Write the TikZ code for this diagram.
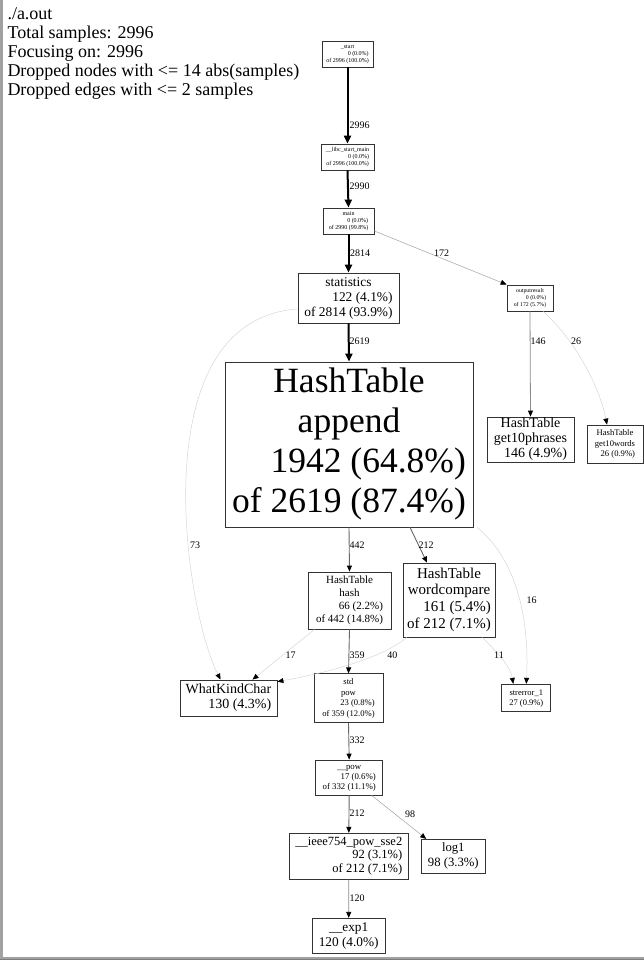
\documentclass[tikz,border=0pt]{standalone}
\usepackage{fontspec}
\setmainfont{Liberation Serif}
\usetikzlibrary{arrows.meta}
\newcommand{\fsz}[2]{\fontsize{#1}{#2}\selectfont}
\definecolor{scrblue}{HTML}{3C8CDC}
\begin{document}
\begin{tikzpicture}[x=1pt,y=-1pt,
  box/.style={draw=black!80, line width=0.8pt, rectangle, inner sep=0pt, anchor=center},
  lbl/.style={font=\fsz{10}{11}, inner sep=0pt},
  hdr/.style={font=\fsz{18}{19}, anchor=base west, inner sep=0pt},
  heavy/.style={draw=black, line width=2pt, -{Triangle[length=8pt,width=7pt]}},
  medge/.style={draw=black!60, line width=0.9pt, -{Triangle[length=6pt,width=5pt,color=black]}},
  gedge/.style={draw=black!45, line width=0.8pt, -{Triangle[length=6pt,width=5pt,color=black]}},
  ledge/.style={draw=black!32, line width=0.6pt, -{Triangle[length=6pt,width=5pt,color=black]}},
  fedge/.style={draw=black!16, line width=0.5pt, -{Triangle[length=6pt,width=5pt,color=black]}}
]
\useasboundingbox (0,0) rectangle (644,960);
\fill[black!37] (0,0) rectangle (3,957);
\fill[black!37] (0,957) rectangle (644,959);
\fill[scrblue] (0,959) rectangle (644,960);

% header
\node[hdr] (h1) at (7.3,20) {./a.out};
\node[hdr] (h2) at (7.3,39) {Total samples: 2996};
\node[hdr] (h3) at (7.3,58) {Focusing on: 2996};
\node[hdr] (h4) at (7.3,77) {Dropped nodes with <= 14 abs(samples)};
\node[hdr] (h5) at (7.3,96) {Dropped edges with <= 2 samples};

% nodes
\node[box, minimum width=51pt, minimum height=26pt] (start) at (347.5,54)
  {\fsz{6}{7}\begin{tabular}{@{}c@{}}\_start\\\hfill 0 (0.0\%)\\of 2996 (100.0\%)\end{tabular}};
\node[box, minimum width=53pt, minimum height=26pt] (libc) at (347.5,157)
  {\fsz{6}{7}\begin{tabular}{@{}c@{}}\_\_libc\_start\_main\\\hfill 0 (0.0\%)\\of 2996 (100.0\%)\end{tabular}};
\node[box, minimum width=51pt, minimum height=26pt] (main) at (348.5,221)
  {\fsz{6}{7}\begin{tabular}{@{}c@{}}main\\\hfill 0 (0.0\%)\\of 2990 (99.8\%)\end{tabular}};
\node[box, minimum width=101pt, minimum height=50pt] (stat) at (348.5,298)
  {\fsz{13.4}{15}\begin{tabular}{@{}c@{}}statistics\\\hfill 122 (4.1\%)\\of 2814 (93.9\%)\end{tabular}};
\node[box, minimum width=46pt, minimum height=26pt] (outr) at (530,298)
  {\fsz{5.8}{7}\begin{tabular}{@{}c@{}}outputresult\\\hfill 0 (0.0\%)\\of 172 (5.7\%)\end{tabular}};
\node[box, minimum width=248pt, minimum height=165pt] (app) at (349,444.5)
  {\fsz{35.5}{40}\begin{tabular}{@{}c@{}}HashTable\\append\\\hfill 1942 (64.8\%)\\of 2619 (87.4\%)\end{tabular}};
\node[box, minimum width=87pt, minimum height=45pt] (g10p) at (530.5,439.5)
  {\fsz{14}{15}\begin{tabular}{@{}c@{}}HashTable\\get10phrases\\\hfill 146 (4.9\%)\end{tabular}};
\node[box, minimum width=56pt, minimum height=38pt] (g10w) at (615,444)
  {\fsz{8.6}{10.5}\begin{tabular}{@{}c@{}}HashTable\\get10words\\\hfill 26 (0.9\%)\end{tabular}};
\node[box, minimum width=83pt, minimum height=57pt] (hash) at (349.5,600.5)
  {\fsz{11}{12.7}\begin{tabular}{@{}c@{}}HashTable\\hash\\\hfill 66 (2.2\%)\\of 442 (14.8\%)\end{tabular}};
\node[box, minimum width=92pt, minimum height=74pt] (wc) at (449,600)
  {\fsz{15}{16.7}\begin{tabular}{@{}c@{}}HashTable\\wordcompare\\\hfill 161 (5.4\%)\\of 212 (7.1\%)\end{tabular}};
\node[box, minimum width=97pt, minimum height=36pt] (wkc) at (228.5,698)
  {\fsz{14}{14.5}\begin{tabular}{@{}c@{}}WhatKindChar\\\hfill 130 (4.3\%)\end{tabular}};
\node[box, minimum width=69pt, minimum height=49pt] (spow) at (348.5,698.3)
  {\fsz{8.6}{10.5}\begin{tabular}{@{}c@{}}std\\pow\\\hfill 23 (0.8\%)\\of 359 (12.0\%)\end{tabular}};
\node[box, minimum width=49pt, minimum height=27.5pt] (strerr) at (526.3,698)
  {\fsz{8.5}{10}\begin{tabular}{@{}c@{}}strerror\_1\\\hfill 27 (0.9\%)\end{tabular}};
\node[box, minimum width=67pt, minimum height=35pt] (pow) at (349.2,777.5)
  {\fsz{8.8}{9.7}\begin{tabular}{@{}c@{}}\_\_pow\\\hfill 17 (0.6\%)\\of 332 (11.1\%)\end{tabular}};
\node[box, minimum width=119pt, minimum height=46pt] (ieee) at (348.8,856.3)
  {\fsz{12.5}{13.3}\begin{tabular}{@{}c@{}}\_\_ieee754\_pow\_sse2\\\hfill 92 (3.1\%)\\\hfill of 212 (7.1\%)\end{tabular}};
\node[box, minimum width=63.3pt, minimum height=34pt] (log1) at (453.3,856.3)
  {\fsz{12.7}{14.5}\begin{tabular}{@{}c@{}}log1\\\hfill 98 (3.3\%)\end{tabular}};
\node[box, minimum width=72.7pt, minimum height=35pt] (exp1) at (348.7,935.8)
  {\fsz{13.3}{15}\begin{tabular}{@{}c@{}}\_\_exp1\\\hfill 120 (4.0\%)\end{tabular}};

% edges
\draw[heavy] (start.south) -- (libc.north);
\draw[heavy] (libc.south) -- (main.north);
\draw[heavy] (main.south) -- (stat.north);
\draw[heavy] (stat.south) -- (app.north);
\draw[ledge] ([yshift=-10pt]main.east) -- (outr.north west);
\draw[gedge] (outr.south) -- (g10p.north);
\draw[fedge] ([xshift=13pt]outr.south) .. controls (570,335) and (598,380) .. ([xshift=-8pt]g10w.north);
\draw[fedge] ([yshift=-11pt]stat.west) .. controls (140,320) and (185,610) .. ([xshift=-8pt]wkc.north);
\draw[medge] (app.south) -- (hash.north);
\draw[medge] ([xshift=61pt]app.south) -- ([xshift=-22pt]wc.north);
\draw[fedge] ([xshift=128pt]app.south) .. controls (512,555) and (530,610) .. (strerr.north);
\draw[fedge] ([xshift=-35pt]hash.south) -- ([xshift=24pt]wkc.north);
\draw[medge] (hash.south) -- (spow.north);
\draw[fedge] ([xshift=4pt]wc.south west) .. controls (380,660) and (320,674) .. ([yshift=-2pt]wkc.north east);
\draw[fedge] ([xshift=33pt]wc.south) .. controls (495,650) and (510,665) .. ([xshift=-13pt]strerr.north);
\draw[medge] (spow.south) -- (pow.north);
\draw[medge] (pow.south) -- (ieee.north);
\draw[ledge] ([xshift=22.5pt]pow.south) -- ([xshift=5pt]log1.north west);
\draw[gedge] (ieee.south) -- (exp1.north);

% edge labels
\node[lbl, anchor=west] (l2996) at (349.3,125) {2996};
\node[lbl, anchor=west] (l2990) at (349.3,186.7) {2990};
\node[lbl, anchor=west] (l2814) at (349.8,253) {2814};
\node[lbl] (l172) at (441.7,253.3) {172};
\node[lbl, anchor=west] (l2619) at (349.3,341.7) {2619};
\node[lbl, anchor=west] (l146) at (530.5,341.7) {146};
\node[lbl] (l26) at (576,341.7) {26};
\node[lbl] (l73) at (195,545) {73};
\node[lbl, anchor=west] (l442) at (349.3,545) {442};
\node[lbl, anchor=west] (l212a) at (418.3,545) {212};
\node[lbl] (l16) at (531.7,600) {16};
\node[lbl] (l17) at (290.5,655) {17};
\node[lbl, anchor=west] (l359) at (349.3,655) {359};
\node[lbl] (l40) at (392.3,655) {40};
\node[lbl] (l11) at (499,655) {11};
\node[lbl, anchor=west] (l332) at (349.3,740.7) {332};
\node[lbl, anchor=west] (l212b) at (349.3,813.3) {212};
\node[lbl] (l98) at (410,814.3) {98};
\node[lbl, anchor=west] (l120) at (349.3,898.3) {120};
\end{tikzpicture}
\end{document}
